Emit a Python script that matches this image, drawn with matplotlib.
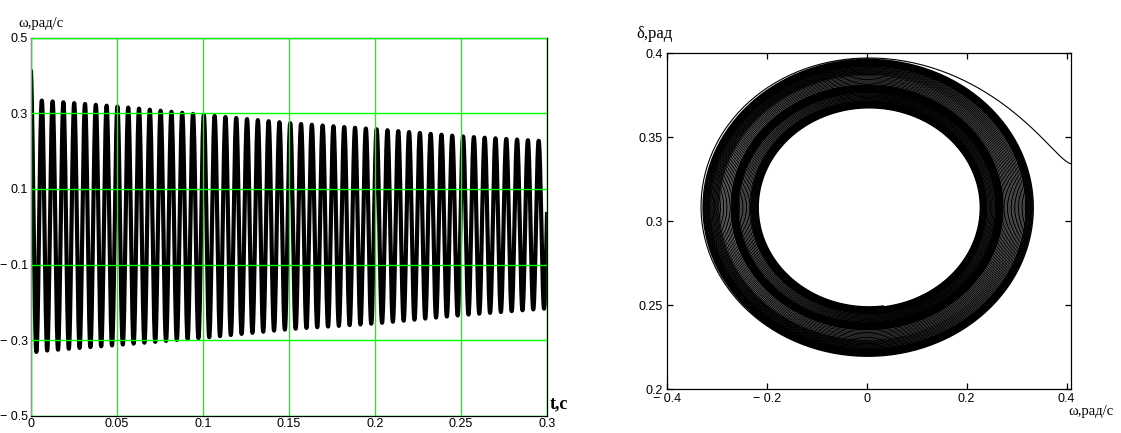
import numpy as np
import matplotlib.pyplot as plt

# omega envelope (rad/s)
t_env = [0.0, 0.05, 0.1, 0.15, 0.2, 0.25, 0.3]
w_upper = [0.336, 0.318, 0.296, 0.274, 0.258, 0.239, 0.226]
w_lower = [-0.331, -0.313, -0.294, -0.271, -0.256, -0.234, -0.216]
w_start = 0.41      # omega at t = 0
d_start = 0.334     # delta at t = 0
d_center = 0.308    # middle of the ring (right chart)
d_ratio = 0.267     # delta swing / omega swing, from the ring size
period = 0.00628    # one swing, s

t_ticks = [0, 0.05, 0.1, 0.15, 0.2, 0.25, 0.3]
t_labels = ['0', '0.05', '0.1', '0.15', '0.2', '0.25', '0.3']
w_ticks = [-0.5, -0.3, -0.1, 0.1, 0.3, 0.5]
w_labels = ['\u2212 0.5', '\u2212 0.3', '\u2212 0.1', '0.1', '0.3', '0.5']
wx_ticks = [-0.4, -0.2, 0, 0.2, 0.4]
wx_labels = ['\u2212 0.4', '\u2212 0.2', '0', '0.2', '0.4']
d_ticks = [0.2, 0.25, 0.3, 0.35, 0.4]
d_labels = ['0.2', '0.25', '0.3', '0.35', '0.4']

# curves
t = np.linspace(0, 0.3, 6000)
up = np.interp(t, t_env, w_upper)
lo = np.interp(t, t_env, w_lower)
mid = (up + lo) / 2
amp = (up - lo) / 2
ph = 2 * np.pi * t / period
w = mid + (amp + (w_start - up[0]) * np.exp(-t / 0.0008)) * np.cos(ph)
d = d_center + d_ratio * amp * np.sin(ph) + (d_start - d_center) * np.exp(-t / 0.0003)

plt.rcParams['font.family'] = 'Liberation Sans'
plt.rcParams['font.size'] = 9
lab_font = dict(family='Liberation Serif', size=10.5)

fig = plt.figure(figsize=(11.21, 4.33), dpi=100)

# left: omega(t)
ax1 = fig.add_axes([31/1121, 1 - 415.7/433, 516/1121, 378/433])
ax1.plot(t, w, color='black', lw=3.0, zorder=2)
ax1.set_xlim(0, 0.3)
ax1.set_ylim(-0.5, 0.5)
ax1.set_xticks(t_ticks)
ax1.set_xticklabels(t_labels)
ax1.set_yticks(w_ticks)
ax1.set_yticklabels(w_labels)
ax1.tick_params(length=0, pad=2)
ax1.grid(True, color='#00ff00', lw=1.0)
ax1.set_axisbelow(False)
for s in ax1.spines.values():
    s.set_linewidth(0.9)
ax1.text(18/1121, 1 - 23/433, '\u03c9,рад/с', transform=fig.transFigure,
         va='center', ha='left', **lab_font)
ax1.text(550/1121, 1 - 404/433, 't,с', transform=fig.transFigure,
         va='center', ha='left', family='Liberation Serif', size=13, weight='bold')

# right: delta(omega)
ax2 = fig.add_axes([666.7/1121, 1 - 389/433, 404.3/1121, 336/433])
ax2.plot(w, d, color='black', lw=0.8)
ax2.set_xlim(-0.4, 0.409)
ax2.set_ylim(0.2, 0.4)
ax2.set_xticks(wx_ticks)
ax2.set_xticklabels(wx_labels)
ax2.set_yticks(d_ticks)
ax2.set_yticklabels(d_labels)
ax2.tick_params(direction='in', length=4, width=0.9, top=True, right=True, pad=3)
for s in ax2.spines.values():
    s.set_linewidth(0.9)
ax2.text(636/1121, 1 - 34/433, '\u03b4,рад', transform=fig.transFigure,
         va='center', ha='left', family='Liberation Serif', size=12)
ax2.text(1068/1121, 1 - 411/433, '\u03c9,рад/с', transform=fig.transFigure,
         va='center', ha='left', **lab_font)

fig.savefig('out.png', dpi=100)
